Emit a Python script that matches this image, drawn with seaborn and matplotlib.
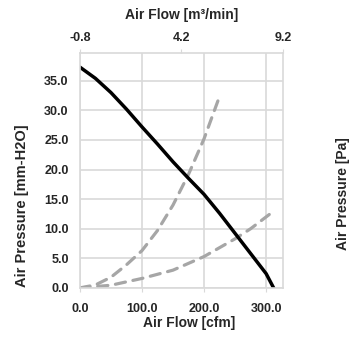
import matplotlib
matplotlib.use("Agg")
import matplotlib.pyplot as plt
import seaborn as sns
import pandas as pd

# fan curve (cfm vs mm-H2O)
fan_cfm = [0, 25, 50, 75, 100, 125, 150, 175, 200, 225, 250, 275, 300, 312]
fan_p = [37.3, 35.4, 33.0, 30.2, 27.2, 24.3, 21.3, 18.5, 15.8, 12.6, 9.2, 5.8, 2.4, 0.0]

# system impedance curves
sys1_cfm = [0, 25, 50, 75, 100, 125, 150, 175, 200, 223]
sys1_p = [0.0, 0.5, 1.8, 3.9, 6.3, 9.7, 14.0, 19.2, 25.2, 31.8]
sys2_cfm = [0, 50, 100, 150, 200, 250, 275, 305]
sys2_p = [0.0, 0.45, 1.6, 3.0, 5.3, 8.3, 10.0, 12.4]

y_ticks = [0, 5, 10, 15, 20, 25, 30, 35]
x_ticks = [0, 100, 200, 300]
top_ticks = [-0.8, 4.2, 9.2]

sns.set_style("white")
plt.rcParams['font.family'] = ['Liberation Sans', 'DejaVu Sans']

fig = plt.figure(figsize=(3.55, 3.55), dpi=100)
ax = fig.add_axes([0.225, 0.189, 0.572, 0.662])

grid_c = "#d9d9d9"
gray = "#a6a6a6"

df1 = pd.DataFrame({"cfm": sys1_cfm, "p": sys1_p})
df2 = pd.DataFrame({"cfm": sys2_cfm, "p": sys2_p})
dff = pd.DataFrame({"cfm": fan_cfm, "p": fan_p})

sns.lineplot(data=df1, x="cfm", y="p", ax=ax, color=gray, lw=2.3,
             dashes=False, estimator=None, sort=False)
sns.lineplot(data=df2, x="cfm", y="p", ax=ax, color=gray, lw=2.3,
             dashes=False, estimator=None, sort=False)
for l in ax.lines:
    l.set_dashes((3.2, 2.4))
    l.set_dash_capstyle("round")
sns.lineplot(data=dff, x="cfm", y="p", ax=ax, color="black", lw=2.5,
             estimator=None, sort=False)

ax.set_xlim(0, 327)
ax.set_ylim(0, 39.7)
ax.set_xticks(x_ticks)
ax.set_xticklabels([f"{v:.1f}" for v in x_ticks])
ax.set_yticks(y_ticks)
ax.set_yticklabels([f"{v:.1f}" for v in y_ticks])
ax.grid(True, color=grid_c, lw=1.2)
ax.set_axisbelow(True)
for s in ax.spines.values():
    s.set_color(grid_c)
    s.set_linewidth(1.2)
ax.tick_params(axis="x", direction="out", length=3, color=grid_c,
               labelsize=9, pad=8)
ax.tick_params(axis="y", direction="out", length=3, color=grid_c,
               labelsize=9, pad=5)
for t in ax.get_xticklabels() + ax.get_yticklabels():
    t.set_fontweight("bold")

ax.set_xlabel("Air Flow [cfm]", fontsize=10, fontweight="bold")
ax.xaxis.set_label_coords(0.54, -0.119)
ax.set_ylabel("Air Pressure [mm-H2O]", fontsize=10.5, fontweight="bold")
ax.yaxis.set_label_coords(-0.25, 0.35)

# top axis in m3/min
top = ax.twiny()
top.set_xlim(-0.8, 9.2)
top.set_xticks(top_ticks)
top.set_xticklabels([f"{v:.1f}" for v in top_ticks])
top.tick_params(axis="x", direction="out", length=3, color=grid_c,
                labelsize=9, pad=3.5)
for t in top.get_xticklabels():
    t.set_fontweight("bold")
for s in top.spines.values():
    s.set_visible(False)
top.set_xlabel("Air Flow [m³/min]", fontsize=10, fontweight="bold", labelpad=9)

fig.text(0.966, 1 - 194 / 355, "Air Pressure [Pa]", rotation=90,
         ha="center", va="center", fontsize=10, fontweight="bold")

plt.savefig("out.png", dpi=100)
